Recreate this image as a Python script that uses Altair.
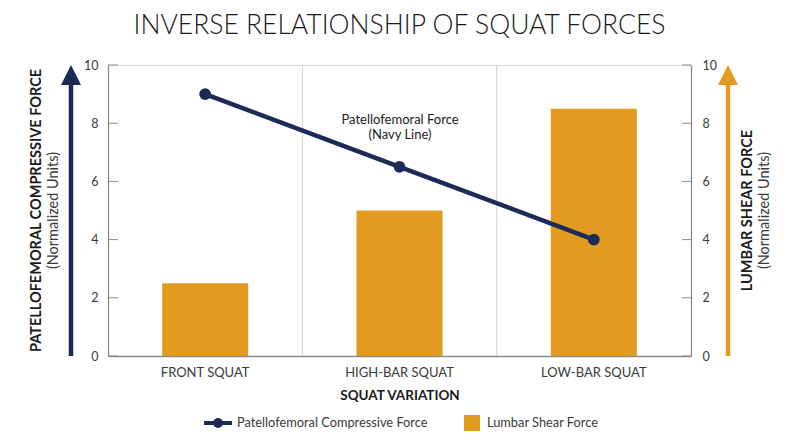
import altair as alt
import pandas as pd

TITLE = "INVERSE RELATIONSHIP OF SQUAT FORCES"
SQUATS = ["FRONT SQUAT", "HIGH-BAR SQUAT", "LOW-BAR SQUAT"]
PATELLO = [9.0, 6.5, 4.0]
LUMBAR = [2.5, 5.0, 8.5]
Y_TICKS = [0, 2, 4, 6, 8, 10]
LINE_NAME = "Patellofemoral Compressive Force"
BAR_NAME = "Lumbar Shear Force"
LEFT_TITLE = "PATELLOFEMORAL COMPRESSIVE FORCE"
RIGHT_TITLE = "LUMBAR SHEAR FORCE"
UNITS = "(Normalized Units)"
X_TITLE = "SQUAT VARIATION"
NOTE = ["Patellofemoral Force", "(Navy Line)"]

NAVY = "#1b2b55"
ORANGE = "#e39a21"
AXIS_GRAY = "#8a8a8a"
TEXT_DARK = "#1a1a1a"
TEXT_MID = "#3a3a3a"
FONT = "Lato"
W, H = 583, 291

df = pd.DataFrame({
    "squat": SQUATS,
    "pf": PATELLO,
    "ls": LUMBAR,
    "pf_name": [LINE_NAME] * len(SQUATS),
    "ls_name": [BAR_NAME] * len(SQUATS),
})
ticks = pd.DataFrame({"v": Y_TICKS})
bounds = pd.DataFrame({"squat": SQUATS[1:]})
one = pd.DataFrame({"k": [0]})

xscale = alt.Scale(domain=SQUATS, paddingInner=0, paddingOuter=0)
yscale = alt.Scale(domain=[0, 10], nice=False)

xaxis = alt.Axis(
    title=X_TITLE, titleFont=FONT, titleFontSize=13.5, titleFontWeight="bold",
    titleColor=TEXT_DARK, titlePadding=9,
    labelFont=FONT, labelFontSize=13, labelColor=TEXT_MID, labelPadding=10,
    labelAngle=0, ticks=False, tickSize=0, domainColor=AXIS_GRAY,
    domainWidth=1.3, grid=False,
)

def X(**kw):
    return alt.X("squat:N", scale=xscale, axis=xaxis, sort=SQUATS, **kw)

grid = alt.Chart(bounds).mark_rule(color="#d2d2d2", strokeWidth=1).encode(
    x=X(bandPosition=0)
)

bars = alt.Chart(df).mark_bar(size=86).encode(
    x=X(),
    y=alt.Y("ls:Q", scale=yscale, axis=alt.Axis(
        orient="right", title=None, values=Y_TICKS, labelFont=FONT,
        labelFontSize=12.5, labelColor=TEXT_MID, labelPadding=11,
        ticks=False, tickSize=0, domainColor=AXIS_GRAY, domainWidth=1.3,
        grid=False)),
    fill=alt.Fill("ls_name:N", scale=alt.Scale(domain=[BAR_NAME], range=[ORANGE]),
                  legend=alt.Legend(title=None, orient="none", legendX=356, legendY=350,
                                    symbolType="square", symbolSize=256, symbolStrokeWidth=0,
                                    labelOffset=7, labelFont=FONT, labelFontSize=12.8,
                                    labelColor=TEXT_MID, labelLimit=400, padding=0)),
)

LEG_PATH = "M-2.8,0H2.8M0.6,0A0.6,0.6,0,1,1,-0.6,0A0.6,0.6,0,1,1,0.6,0Z"
line = alt.Chart(df).mark_line(strokeWidth=4.5, point=alt.OverlayMarkDef(filled=True, size=140)).encode(
    x=X(),
    y=alt.Y("pf:Q", scale=yscale, axis=alt.Axis(
        orient="left", title=None, values=Y_TICKS, labelFont=FONT,
        labelFontSize=12.5, labelColor=TEXT_MID, labelPadding=10,
        ticks=False, tickSize=0, domainColor=AXIS_GRAY, domainWidth=1.3,
        grid=False)),
    color=alt.Color("pf_name:N", scale=alt.Scale(domain=[LINE_NAME], range=[NAVY]),
                    legend=alt.Legend(title=None, orient="none", legendX=103, legendY=351,
                                      symbolType=LEG_PATH, symbolSize=100, symbolStrokeWidth=4,
                                      symbolFillColor=NAVY, symbolStrokeColor=NAVY,
                                      labelOffset=12, labelFont=FONT, labelFontSize=12.8,
                                      labelColor=TEXT_MID, labelLimit=400, padding=0)),
)

lticks = alt.Chart(ticks).mark_rule(color=AXIS_GRAY, strokeWidth=1).encode(
    y=alt.Y("v:Q", scale=yscale, axis=None), x=alt.value(0), x2=alt.value(10))
rticks = alt.Chart(ticks).mark_rule(color=AXIS_GRAY, strokeWidth=1).encode(
    y=alt.Y("v:Q", scale=yscale, axis=None), x=alt.value(W - 9), x2=alt.value(W))

HEAD = "M0,0L1,2L-1,2Z"
def arrow(xpos, col):
    shaft = alt.Chart(one).mark_rule(color=col, strokeWidth=4.5).encode(
        x=alt.value(xpos), y=alt.value(H), y2=alt.value(14))
    head = alt.Chart(one).mark_point(shape=HEAD, filled=True, size=400, color=col,
                                     opacity=1, strokeWidth=0).encode(
        x=alt.value(xpos), y=alt.value(0))
    return shaft + head

def vtext(txt, xpos, bold):
    return alt.Chart(one).mark_text(
        angle=270, font=FONT, fontSize=14.5,
        fontWeight="bold" if bold else "normal",
        color=TEXT_DARK if bold else TEXT_MID, align="center", baseline="middle",
    ).encode(x=alt.value(xpos), y=alt.value(H / 2), text=alt.value(txt))

note = alt.Chart(one).mark_text(
    font=FONT, fontSize=13, color=TEXT_DARK, align="center", baseline="middle", lineHeight=15,
).encode(x=alt.value(292), y=alt.value(55), text=alt.value(NOTE))

chart = alt.layer(
    grid, bars, line, lticks, rticks,
    arrow(-37, NAVY), arrow(620, ORANGE),
    vtext(LEFT_TITLE, -71, True), vtext(UNITS, -54, False),
    vtext(RIGHT_TITLE, 640, True), vtext(UNITS, 657, False),
    note,
).resolve_scale(y="independent", color="independent", fill="independent").properties(
    width=W, height=H,
    title=alt.TitleParams(TITLE, font=FONT, fontSize=26.5, fontWeight=300, color=TEXT_DARK,
                          anchor="middle", offset=20),
    autosize=alt.AutoSizeParams(type="none"),
    padding={"left": 100, "top": 57, "right": 101, "bottom": 83},
).configure_view(stroke="transparent").configure(background="white")

chart.save("out.html", embed_options={"renderer": "svg", "actions": False})
